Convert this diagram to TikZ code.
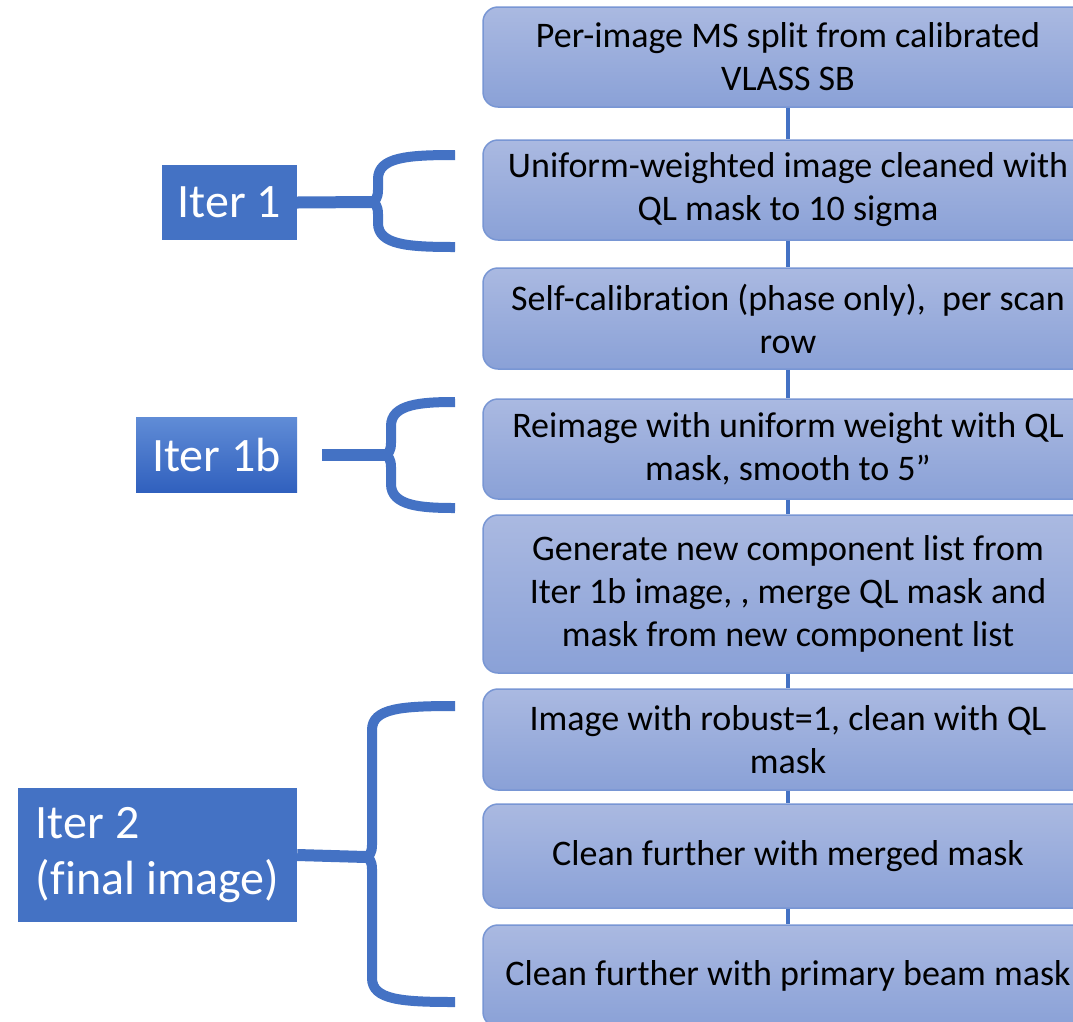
\documentclass[tikz,border=0pt]{standalone}
\usepackage{fontspec}
\setmainfont{Carlito}[Ligatures=NoCommon]
\definecolor{accent}{HTML}{4472C4}
\definecolor{boxtop}{RGB}{170,185,225}
\definecolor{boxbot}{RGB}{138,161,215}
\definecolor{boxline}{RGB}{120,150,212}
\definecolor{lbtop}{RGB}{96,140,214}
\definecolor{lbbot}{RGB}{48,96,190}
\tikzset{
  stepbox/.style={draw=boxline, line width=1.5pt, rounded corners=15pt,
    top color=boxtop, bottom color=boxbot, minimum width=610pt,
    align=center, text=black, inner sep=0pt,
    font=\fontsize{36}{43}\selectfont},
  iterlabel/.style={fill=accent, text=white, inner sep=0pt, align=left,
    font=\fontsize{48}{56}\selectfont},
  link/.style={draw=accent, line width=4.5pt},
  bracestroke/.style={draw=accent, line width=10pt, line join=round},
  stem/.style={draw=accent, line width=12pt}
}
% #1 right x, #2 vertical x, #3 top y, #4 middle y, #5 bottom y, #6 tip name
\newcommand{\mybrace}[6]{%
  \coordinate (#6) at ({#2-6},#4);
  \draw[bracestroke] (#1,#3) .. controls ({#2+30},#3) and (#2,{#3+2}) .. (#2,{#3+24})
    -- (#2,{#4-12}) .. controls (#2,{#4-4}) and ({#2-3},#4) .. ({#2-7},#4)
    .. controls ({#2-3},#4) and (#2,{#4+4}) .. (#2,{#4+12})
    -- (#2,{#5-24}) .. controls (#2,{#5-2}) and ({#2+30},#5) .. (#1,#5);}
\begin{document}
\begin{tikzpicture}[x=1pt,y=-1pt]
\useasboundingbox (0,0) rectangle (1073,1021);
\clip (0,0) rectangle (1073,1021);
\fill[white] (0,0) rectangle (1073,1021);

\node[stepbox, minimum height=100pt] (b1) at (788,57) {Per-image MS split from calibrated\\VLASS SB};
\node[stepbox, minimum height=100pt] (b2) at (788,190) {Uniform-weighted image cleaned with\\QL mask to 10 sigma};
\node[stepbox, minimum height=101pt] (b3) at (788,318.5) {Self-calibration (phase only),\ \ per scan\\row};
\node[stepbox, minimum height=100pt] (b4) at (788,449) {Reimage with uniform weight with QL\\mask, smooth to 5”};
\node[stepbox, minimum height=158pt] (b5) at (788,594) {Generate new component list from\\Iter 1b image, , merge QL mask and\\mask from new component list};
\node[stepbox, minimum height=101pt] (b6) at (788,739.5) {Image with robust=1, clean with QL\\mask};
\node[stepbox, minimum height=104pt] (b7) at (788,856) {Clean further with merged mask};
\node[stepbox, minimum height=102pt] (b8) at (788,976) {Clean further with primary beam mask};

\draw[link] (b1.south) -- (b2.north);
\draw[link] (b2.south) -- (b3.north);
\draw[link] (b3.south) -- (b4.north);
\draw[link] (b4.south) -- (b5.north);
\draw[link] (b5.south) -- (b6.north);
\draw[link] (b6.south) -- (b7.north);
\draw[link] (b7.south) -- (b8.north);

\node[iterlabel, minimum width=135pt, minimum height=75pt] (l1) at (229.5,202.5) {Iter 1};
\node[iterlabel, top color=lbtop, bottom color=lbbot, minimum width=161pt, minimum height=75pt] (l1b) at (216.5,455) {Iter 1b};
\node[iterlabel, minimum width=279pt, minimum height=134pt] (l2) at (157.5,855) {Iter 2\\(final image)};

\mybrace{455}{378}{155}{202}{247}{t1}
\mybrace{455}{391}{402}{455}{508}{t1b}
\mybrace{455}{372}{706}{857}{1002}{t2}

\draw[stem] (l1.east) -- (t1);
\draw[stem] ([xshift=25pt]l1b.east) -- (t1b);
\draw[stem] (l2.east) -- (t2);
\end{tikzpicture}
\end{document}
